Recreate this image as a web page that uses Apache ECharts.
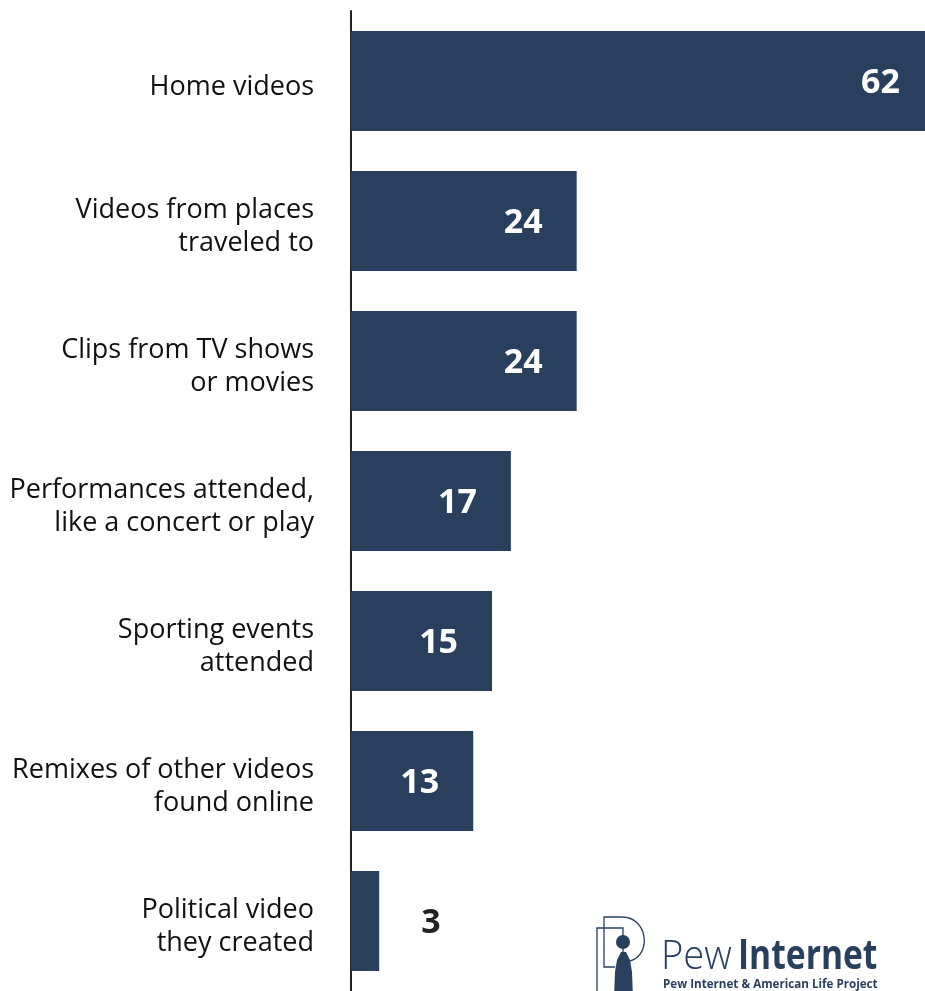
<!DOCTYPE html>
<html>
<head>
<meta charset="utf-8">
<script src="https://cdn.jsdelivr.net/npm/echarts@6/dist/echarts.min.js"></script>
<style>
  html, body { margin: 0; padding: 0; background: #ffffff; }
  #chart { width: 925px; height: 991px; }
</style>
</head>
<body>
<div id="chart"></div>
<script>
// Kinds of video that video-uploaders have posted online (%)
const categories = [
  'Home videos',
  'Videos from places\ntraveled to',
  'Clips from TV shows\nor movies',
  'Performances attended,\nlike a concert or play',
  'Sporting events\nattended',
  'Remixes of other videos\nfound online',
  'Political video\nthey created'
];
const values = [62, 24, 24, 17, 15, 13, 3];

const NAVY = '#283f5e';
const FONT = '"Open Sans", "Noto Sans", sans-serif';

const chart = echarts.init(document.getElementById('chart'), null, { renderer: 'canvas' });

// Small bars keep their value outside, large ones inside at the right end
const barData = values.map(v => {
  const small = v < 5;
  return {
    value: v,
    label: small
      ? { position: 'right', distance: 42, color: '#222222' }
      : { position: 'insideRight', distance: 34, color: '#ffffff' }
  };
});

// Category names sit a little below the bar centre: a thin spacer line on top pushes them down
const labelFormatter = name =>
  '{gap| }\n' + name.split('\n').map(line => '{t|' + line + '}').join('\n');

chart.setOption({
  animation: false,
  backgroundColor: '#ffffff',
  // the plot runs a little past the right edge, so the longest bar is cut off
  grid: { left: 351, top: 11, right: -9, bottom: 0, containLabel: false, outerBoundsMode: 'none' },
  xAxis: {
    type: 'value', min: 0, max: 62, show: false
  },
  yAxis: {
    type: 'category',
    data: categories,
    inverse: true,
    axisLine: { show: true, lineStyle: { color: '#222222', width: 2 } },
    axisTick: { show: false },
    axisLabel: {
      margin: 37,
      align: 'right',
      formatter: labelFormatter,
      rich: {
        gap: { fontSize: 1, lineHeight: 12 },
        t: { color: '#111111', fontFamily: FONT, fontSize: 27, lineHeight: 33, align: 'right' }
      }
    }
  },
  series: [{
    type: 'bar',
    data: barData,
    barWidth: 100,
    itemStyle: { color: NAVY },
    label: {
      show: true,
      fontFamily: FONT,
      fontWeight: 'bold',
      fontSize: 34,
      offset: [0, 2]
    }
  }],
  graphic: [
    // Pew Internet logo mark
    { type: 'rect', shape: { x: 597, y: 928, width: 26, height: 70 },
      style: { fill: 'none', stroke: NAVY, lineWidth: 1.3 } },
    { type: 'polyline', shape: { points: [[615, 967], [604, 967], [604, 917], [622, 917]] },
      style: { fill: 'none', stroke: NAVY, lineWidth: 1.3 } },
    { type: 'bezierCurve',
      shape: { x1: 622, y1: 917, cpx1: 648, cpy1: 917, cpx2: 652, cpy2: 955, x2: 630, y2: 961 },
      style: { fill: 'none', stroke: NAVY, lineWidth: 1.3 } },
    { type: 'circle', shape: { cx: 623, cy: 942, r: 7 }, style: { fill: NAVY } },
    { type: 'polygon',
      shape: { points: [[621, 952], [626, 952], [630, 960], [632, 972], [633, 998], [614, 998], [615, 972], [617, 960]] },
      style: { fill: NAVY } },
    { type: 'text', x: 661, y: 957, scaleX: 0.93,
      style: { text: 'Pew', fill: NAVY, font: '300 41px "Open Sans", sans-serif',
               align: 'left', verticalAlign: 'middle' } },
    { type: 'text', x: 738, y: 957, scaleX: 0.8,
      style: { text: 'Internet', fill: NAVY, font: 'bold 42px "Open Sans", sans-serif',
               align: 'left', verticalAlign: 'middle' } },
    { type: 'text', x: 663, y: 984, scaleX: 0.93,
      style: { text: 'Pew Internet & American Life Project', fill: NAVY,
               font: 'bold 12.5px "Open Sans", sans-serif', align: 'left', verticalAlign: 'middle' } }
  ]
});
</script>
</body>
</html>
